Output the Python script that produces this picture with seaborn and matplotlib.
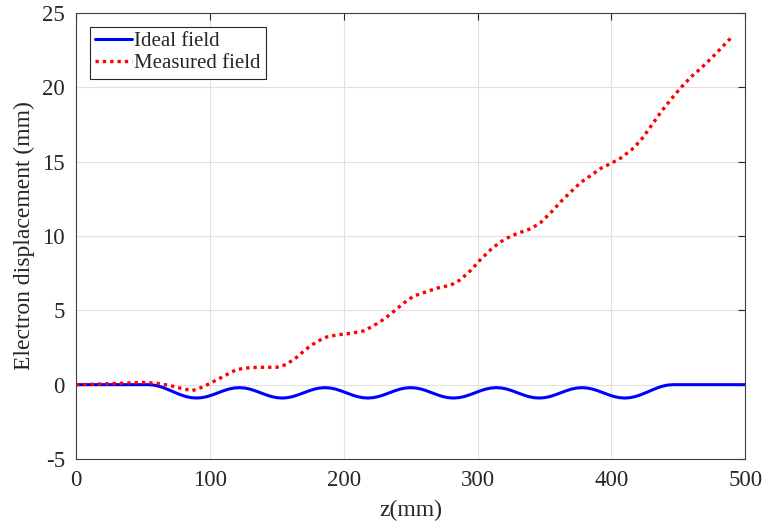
import pandas as pd
import seaborn as sns
import matplotlib.pyplot as plt

# ideal field: flat, then periodic wiggle, then back to zero
ideal_z = [0, 20, 40, 54, 58, 62, 66, 70, 74, 78, 82, 86,
           90, 94, 98, 102, 106, 110, 114, 118, 122, 126, 130, 134, 138, 142, 146, 150,
           154, 158, 162, 166, 170, 174, 178, 182, 186, 190, 194, 198, 202, 206, 210, 214,
           218, 222, 226, 230, 234, 238, 242, 246, 250, 254, 258, 262, 266, 270, 274, 278,
           282, 286, 290, 294, 298, 302, 306, 310, 314, 318, 322, 326, 330, 334, 338, 342,
           346, 350, 354, 358, 362, 366, 370, 374, 378, 382, 386, 390, 394, 398, 402, 406,
           410, 414, 418, 422, 426, 430, 434, 438, 442, 446, 460, 480, 500]
ideal_d = [0, 0, 0, 0, -0.027, -0.105, -0.225, -0.372, -0.528, -0.675, -0.795, -0.873,
           -0.9, -0.873, -0.80, -0.684, -0.55, -0.416, -0.30, -0.227, -0.2, -0.227, -0.30, -0.416, -0.55, -0.684, -0.80, -0.873,
           -0.9, -0.873, -0.80, -0.684, -0.55, -0.416, -0.30, -0.227, -0.2, -0.227, -0.30, -0.416, -0.55, -0.684, -0.80, -0.873,
           -0.9, -0.873, -0.80, -0.684, -0.55, -0.416, -0.30, -0.227, -0.2, -0.227, -0.30, -0.416, -0.55, -0.684, -0.80, -0.873,
           -0.9, -0.873, -0.80, -0.684, -0.55, -0.416, -0.30, -0.227, -0.2, -0.227, -0.30, -0.416, -0.55, -0.684, -0.80, -0.873,
           -0.9, -0.873, -0.80, -0.684, -0.55, -0.416, -0.30, -0.227, -0.2, -0.227, -0.30, -0.416, -0.55, -0.684, -0.80, -0.873,
           -0.9, -0.873, -0.795, -0.675, -0.528, -0.372, -0.225, -0.105, -0.027, 0, 0, 0, 0]

# measured field
meas_z = [0, 10, 20, 30, 40, 50, 60, 70, 80, 87, 95, 100, 110, 120, 130, 140, 150, 157,
          165, 172, 180, 187, 195, 205, 215, 222, 230, 237, 245, 252, 260, 270, 280, 287,
          295, 302, 310, 317, 325, 332, 340, 347, 355, 362, 370, 377, 385, 392, 400, 407,
          415, 422, 430, 437, 445, 452, 460, 467, 475, 482, 490]
meas_d = [0, 0.02, 0.05, 0.08, 0.12, 0.15, 0.1, -0.05, -0.28, -0.4, -0.15, 0.08, 0.55, 1.02,
          1.15, 1.17, 1.17, 1.35, 1.85, 2.4, 2.9, 3.2, 3.35, 3.45, 3.62, 3.95, 4.4, 4.9, 5.5,
          5.95, 6.2, 6.5, 6.7, 7.05, 7.7, 8.4, 9.1, 9.6, 10.0, 10.25, 10.5, 10.9, 11.6, 12.3,
          13.0, 13.6, 14.1, 14.55, 14.9, 15.25, 15.8, 16.45, 17.45, 18.35, 19.25, 20.0, 20.75,
          21.3, 22.0, 22.65, 23.4]

x_ticks = [0, 100, 200, 300, 400, 500]
y_ticks = [-5, 0, 5, 10, 15, 20, 25]

df_ideal = pd.DataFrame({'z': ideal_z, 'd': ideal_d})
df_meas = pd.DataFrame({'z': meas_z, 'd': meas_d})

sns.set_style('whitegrid')
plt.rcParams['font.family'] = ['Liberation Serif', 'DejaVu Serif']
plt.rcParams['axes.unicode_minus'] = False

fig = plt.figure(figsize=(7.65, 5.22), dpi=100)
ax = fig.add_axes([0.0993, 0.1207, 0.875, 0.8543])

sns.lineplot(data=df_ideal, x='z', y='d', ax=ax, color='#0000ff', lw=2.2,
             estimator=None, sort=False, label='Ideal field')
sns.lineplot(data=df_meas, x='z', y='d', ax=ax, color='#ff0000', lw=2.4,
             linestyle=(0, (1, 1.2)), estimator=None, sort=False, label='Measured field')

ax.set_xlim(0, 500)
ax.set_ylim(-5, 25)
ax.set_xticks(x_ticks)
ax.set_yticks(y_ticks)
ax.set_xlabel('z(mm)', fontsize=17, color='#262626', labelpad=6)
ax.set_ylabel('Electron displacement (mm)', fontsize=17, color='#262626', labelpad=5)
ax.tick_params(direction='in', length=5, width=0.8, top=True, right=True,
               labelsize=16.5, colors='#262626', pad=8)
ax.grid(True, color='#e0e0e0', lw=0.8)
for s in ax.spines.values():
    s.set_color('#404040')
    s.set_linewidth(0.8)

leg = ax.legend(loc='upper left', fontsize=15, frameon=True, fancybox=False,
                handlelength=1.8, handletextpad=0.1, borderpad=0.25, labelspacing=0.12,
                borderaxespad=0.65)
leg.get_frame().set_edgecolor('#262626')
leg.get_frame().set_linewidth(0.8)
leg.get_frame().set_alpha(1)

fig.savefig('out.png', dpi=100)
